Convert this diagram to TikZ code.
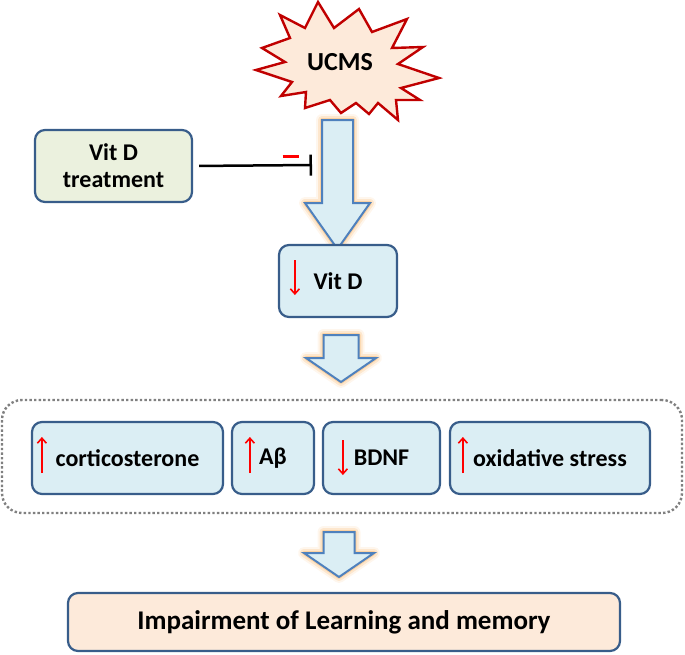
\documentclass[tikz,border=0pt]{standalone}
\usepackage{fontspec}
\setmainfont{Carlito}
\usetikzlibrary{calc,arrows.meta}
\definecolor{boxline}{RGB}{56,93,138}
\definecolor{arrowline}{RGB}{79,129,189}
\definecolor{paleblue}{RGB}{219,238,244}
\definecolor{palegreen}{RGB}{235,241,222}
\definecolor{palepeach}{RGB}{253,234,218}
\definecolor{burstred}{RGB}{192,0,0}
\definecolor{glow}{RGB}{250,185,110}
% block arrow pointing down: x, top, head start, tip, shaft half, head half
\newcommand{\fatarrow}[6]{%
  \foreach \w/\o in {12/0.12,8/0.25,4/0.45}
    \draw[glow,line width=\w pt,opacity=\o,line join=round]
      ({#1-#5},#2) -- ({#1+#5},#2) -- ({#1+#5},#3) -- ({#1+#6},#3)
      -- (#1,#4) -- ({#1-#6},#3) -- ({#1-#5},#3) -- cycle;
  \filldraw[fill=paleblue,draw=arrowline,line width=2pt,line join=miter]
      ({#1-#5},#2) -- ({#1+#5},#2) -- ({#1+#5},#3) -- ({#1+#6},#3)
      -- (#1,#4) -- ({#1-#6},#3) -- ({#1-#5},#3) -- cycle;
}
\begin{document}
\begin{tikzpicture}
  [x=1pt,y=-1pt,
   box/.style={draw=boxline,line width=2.2pt,rounded corners=10pt,
     inner sep=0pt,font=\fontsize{24}{27}\selectfont\bfseries,align=center},
   bluebox/.style={box,fill=paleblue},
   groupbox/.style={draw=gray,line width=2.4pt,rounded corners=20pt,
     dash pattern=on 2.4pt off 2.2pt,minimum width=680pt,minimum height=113pt},
   burst/.style={fill=palepeach,draw=burstred,line width=2.4pt,line join=miter},
   inhibit/.style={black,line width=2.5pt,shorten <=6pt,
     -{Bar[width=21pt,line width=2.5pt]}},
   updown/.style={red,line width=1.6pt,-{Straight Barb[length=5pt,width=9pt]}}]
  \useasboundingbox (0,0) rectangle (685,654);

  % stress
  \draw[burst] (318,2) -- (334,28) -- (359,9) -- (372,32) -- (407,19)
    -- (392,48) -- (423,47) -- (398,64) -- (439,78) -- (401,88)
    -- (420,100) -- (396,100) -- (398,120) -- (378,103) -- (369,114)
    -- (356,103) -- (341,113) -- (330,100) -- (305,108) -- (306,92)
    -- (281,96) -- (292,82) -- (256,70) -- (285,62) -- (262,48)
    -- (290,38) -- (280,15) -- (305,28) -- cycle;
  \node at (340,62) (ucms) [font=\fontsize{26}{30}\selectfont\bfseries] {UCMS};

  \fatarrow{337.5}{120}{203}{249}{15.5}{32.5}
  \fatarrow{341}{335}{358}{382}{17.5}{35}
  \fatarrow{339}{532}{553}{577}{15.5}{35}

  % treatment
  \node at (113.5,166) (treat) [box,fill=palegreen,minimum width=157pt,
    minimum height=72pt] {Vit D\\treatment};
  \coordinate (block) at (312,165);
  \draw[inhibit] (treat.east) -- (block)
    node[pos=0.82,above=5.5pt,inner sep=0pt] {\color{red}\rule{16pt}{3pt}};

  \node at (338,281) (vitd) [bluebox,minimum width=118pt,minimum height=72pt] {Vit D};
  \draw[updown] ($(vitd.west)+(17,-21)$) -- ++(0,35);

  % markers
  \node at (342,456.5) (group) [groupbox] {};
  \node at (127.5,458) (cort) [bluebox,minimum width=191pt,minimum height=72pt] {corticosterone};
  \node at (273,458) (abeta) [bluebox,minimum width=82pt,minimum height=72pt] {Aβ};
  \node at (381.5,458) (bdnf) [bluebox,minimum width=117pt,minimum height=72pt] {BDNF};
  \node at (550,458) (oxid) [bluebox,minimum width=200pt,minimum height=72pt] {oxidative stress};
  \draw[updown] ($(cort.west)+(11,15)$) -- ++(0,-36);
  \draw[updown] ($(abeta.west)+(19,15)$) -- ++(0,-36);
  \draw[updown] ($(bdnf.west)+(21,-18)$) -- ++(0,35);
  \draw[updown] ($(oxid.west)+(14,15)$) -- ++(0,-36);

  \node at (344,622) (impair) [box,fill=palepeach,minimum width=552pt,
    minimum height=58pt,font=\fontsize{27}{30}\selectfont\bfseries]
    {Impairment of Learning and memory};
\end{tikzpicture}
\end{document}
